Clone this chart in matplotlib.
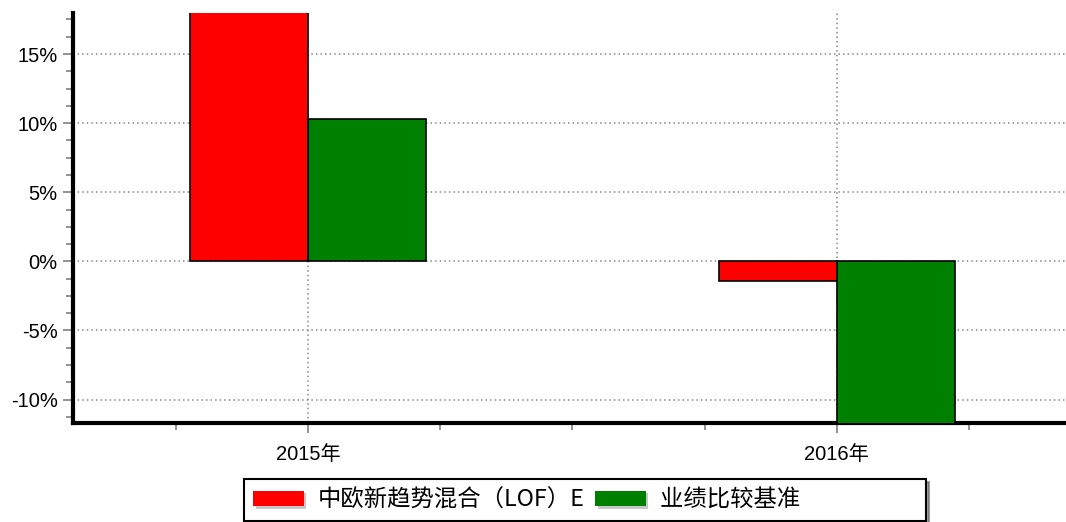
import matplotlib
matplotlib.use("Agg")
import matplotlib.pyplot as plt
from matplotlib import patheffects
from matplotlib.ticker import MultipleLocator, FuncFormatter

plt.rcParams['font.family'] = ['Liberation Sans', 'Noto Sans CJK SC', 'DejaVu Sans']

years = ["2015年", "2016年"]
fund_name = "中欧新趋势混合（LOF）E"
bench_name = "业绩比较基准"
fund_ret = [21.0, -1.45]
bench_ret = [10.3, -12.2]

x = [0, 1]
w = 0.2235

fig = plt.figure(figsize=(10.66, 5.22), dpi=100)
ax = fig.add_axes([73 / 1066, 1 - 423 / 522, 1 - 73 / 1066, (423 - 13) / 522])

ax.bar([i - w / 2 for i in x], fund_ret, width=w, color="#ff0000",
       edgecolor="black", linewidth=1.2, label=fund_name, zorder=3)
# trailing ideographic spaces leave the blank strip the original legend box has on its right
ax.bar([i + w / 2 for i in x], bench_ret, width=w, color="#008000",
       edgecolor="black", linewidth=1.2, label=bench_name + "\u3000" * 5, zorder=3)

ax.set_xlim(-0.445, 1.434)
ax.set_ylim(-11.7, 17.97)

ax.set_xticks(x)
ax.set_xticklabels(years, fontsize=14.5)
ax.xaxis.set_minor_locator(MultipleLocator(0.25))
ax.yaxis.set_major_locator(MultipleLocator(5))
ax.yaxis.set_minor_locator(MultipleLocator(1.25))
ax.yaxis.set_major_formatter(FuncFormatter(lambda v, p: f"{v:.0f}%"))
ax.tick_params(axis="y", labelsize=14.5)

ax.tick_params(which="both", color="#808080", width=1.2, direction="out")
ax.tick_params(which="major", length=7, pad=4)
ax.tick_params(which="minor", length=5)
ax.tick_params(axis="x", pad=9)

ax.grid(True, which="major", color="#888888", linestyle=(0, (1, 2)), linewidth=1.1, zorder=0)
ax.set_axisbelow(True)

for s in ["top", "right"]:
    ax.spines[s].set_visible(False)
ax.spines["left"].set_linewidth(3)
ax.spines["bottom"].set_linewidth(3)

leg = fig.legend(loc="center", bbox_to_anchor=(585 / 1066, 22 / 522), ncol=2,
                 frameon=True, fancybox=False, shadow=True, edgecolor="black",
                 prop={"family": ["Noto Sans CJK SC", "DejaVu Sans"], "size": 16.8},
                 handlelength=2.15, handleheight=0.64, handletextpad=0.6,
                 columnspacing=0.47, borderpad=0.4, borderaxespad=0)
leg.get_frame().set_linewidth(1.5)
for h in leg.get_patches():
    h.set_edgecolor("none")
    h.set_path_effects([patheffects.SimplePatchShadow(offset=(2, -2), shadow_rgbFace="#c8c8c8", alpha=1),
                        patheffects.Normal()])

fig.savefig("out.png", dpi=100)
